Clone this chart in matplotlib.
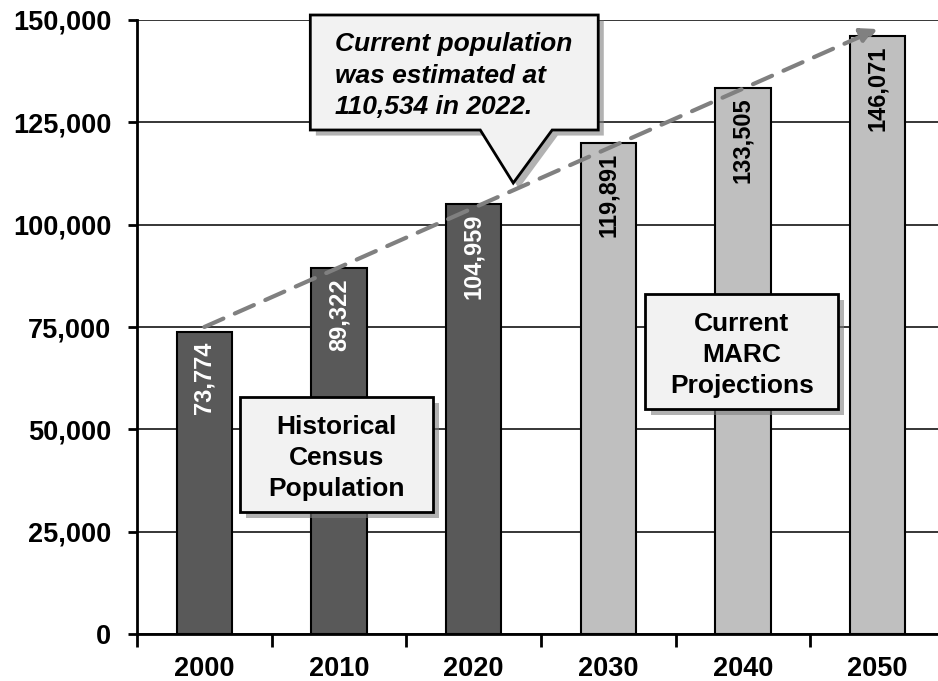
import matplotlib
matplotlib.use("Agg")
import matplotlib.pyplot as plt
from matplotlib.patches import Polygon, Rectangle
import matplotlib.patheffects as pe

plt.rcParams['font.family'] = ['Liberation Sans', 'DejaVu Sans']

years = ["2000", "2010", "2020", "2030", "2040", "2050"]
population = [73774, 89322, 104959, 119891, 133505, 146071]
historical = [True, True, True, False, False, False]
y_ticks = [0, 25000, 50000, 75000, 100000, 125000, 150000]

dark = "#595959"
light = "#BFBFBF"

fig = plt.figure(figsize=(9.38, 6.81), dpi=100)
ax = fig.add_axes([137/938, 1-634/681, (945-137)/938, (634-20)/681])

x = list(range(len(years)))
colors = [dark if h else light for h in historical]
bars = ax.bar(x, population, width=0.41, color=colors, edgecolor="black",
              linewidth=1.5, zorder=3)

for xi, v, h in zip(x, population, historical):
    ax.annotate(f"{v:,}", (xi, v), xytext=(0, -7), textcoords="offset points",
                rotation=90, ha="center", va="top", fontsize=17,
                fontweight="bold", color="white" if h else "black", zorder=4)

ax.set_xlim(-0.5, 5.5)
ax.set_ylim(0, 150000)
ax.set_yticks(y_ticks)
ax.set_yticklabels([f"{t:,}" for t in y_ticks], fontsize=19.5, fontweight="bold")
ax.set_xticks(x)
ax.set_xticklabels(years, fontsize=19.5, fontweight="bold")
ax.set_xticks([i - 0.5 for i in range(len(years) + 1)], minor=True)
ax.tick_params(axis="x", which="major", length=0, pad=16)
ax.tick_params(axis="x", which="minor", length=9, width=2, direction="out")
ax.tick_params(axis="y", length=6.5, width=2, direction="out", pad=12)

ax.yaxis.grid(True, color="black", linewidth=1.1, zorder=0)
ax.set_axisbelow(True)
for s in ["top", "right"]:
    ax.spines[s].set_visible(False)
ax.spines["left"].set_linewidth(2)
ax.spines["bottom"].set_linewidth(2)
ax.spines["left"].set_zorder(5)
ax.spines["bottom"].set_zorder(5)

# trend arrow
ax.annotate("", xy=(5.0, 147800), xytext=(0.0, 75000),
            arrowprops=dict(arrowstyle="-|>,head_length=1.0,head_width=0.5",
                            color="#808080", lw=3, linestyle=(0, (5, 3)),
                            shrinkA=0, shrinkB=0),
            zorder=6)

shadow = [pe.SimplePatchShadow(offset=(4, -4), shadow_rgbFace="#7F7F7F", alpha=0.6),
          pe.Normal()]

# callout
callout = Polygon([(0.787, 151221), (2.925, 151221), (2.925, 123127),
                   (2.583, 123127), (2.294, 110179), (2.049, 123127),
                   (0.787, 123127)], closed=True, facecolor="#F2F2F2",
                  edgecolor="black", linewidth=2, zorder=7, clip_on=False,
                  path_effects=shadow)
ax.add_patch(callout)
ax.text(0.97, 136400, "Current population\nwas estimated at\n110,534 in 2022.",
        ha="left", va="center", fontsize=19, fontweight="bold", style="italic",
        linespacing=1.41, zorder=8)

# historical box
b1 = Rectangle((0.267, 29805), 1.700 - 0.267, 57899 - 29805, facecolor="#F2F2F2",
               edgecolor="black", linewidth=2, zorder=7, path_effects=shadow)
ax.add_patch(b1)
ax.text((0.267 + 1.700) / 2, (29805 + 57899) / 2 - 800, "Historical\nCensus\nPopulation",
        ha="center", va="center", fontsize=19, fontweight="bold",
        linespacing=1.36, zorder=8)

# projections box
b2 = Rectangle((3.274, 54967), 4.707 - 3.274, 83062 - 54967, facecolor="#F2F2F2",
               edgecolor="black", linewidth=2, zorder=7, path_effects=shadow)
ax.add_patch(b2)
ax.text((3.274 + 4.707) / 2, (54967 + 83062) / 2 - 800, "Current\nMARC\nProjections",
        ha="center", va="center", fontsize=19, fontweight="bold",
        linespacing=1.36, zorder=8)

fig.savefig("out.png", dpi=100)
